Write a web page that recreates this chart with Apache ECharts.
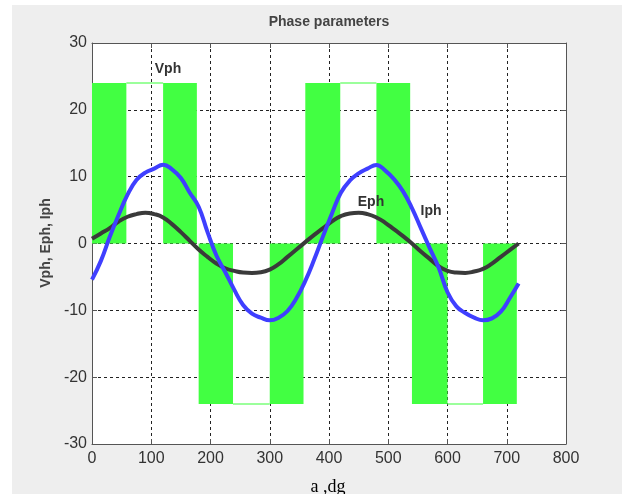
<!DOCTYPE html>
<html>
<head>
<meta charset="utf-8">
<script src="https://cdn.jsdelivr.net/npm/echarts@6/dist/echarts.min.js"></script>
<style>
  html, body { margin: 0; padding: 0; background: #ffffff; width: 622px; height: 494px; overflow: hidden; }
  #chart { position: absolute; left: 12px; top: 5px; width: 610px; height: 489px; background: #eeeeee; }
</style>
</head>
<body>
<div id="chart"></div>
<script>
// ---- data ----
const xTicks = [0, 100, 200, 300, 400, 500, 600, 700, 800];
const yTicks = [-30, -20, -10, 0, 10, 20, 30];

// sample angles (degrees)
const angles = [0, 15, 30, 45, 60, 75, 90, 105, 120, 135, 150, 165, 180, 195, 210, 225, 240, 255, 270, 285, 300, 315, 330, 345, 360,
                375, 390, 405, 420, 435, 450, 465, 480, 495, 510, 525, 540, 555, 570, 585, 600, 615, 630, 645, 660, 675, 690, 705, 720];

// Iph (blue)
const iph = [-5.4, -2.6, 1.0, 4.3, 7.3, 9.5, 10.6, 11.2, 11.8, 11.1, 9.8, 7.6, 5.5, 1.7, -1.8, -4.3, -6.9, -9.2, -10.5, -11.1, -11.5, -11.1, -10.1, -8.2, -5.6,
             -2.4, 1.1, 4.5, 7.6, 9.4, 10.5, 11.2, 11.75, 10.9, 9.6, 7.8, 5.3, 2.3, -0.7, -3.6, -7.3, -9.4, -10.4, -11.1, -11.5, -11.2, -10.2, -8.2, -6.0];

// Eph (dark grey)
const eph = [0.7, 1.5, 2.3, 3.3, 4.0, 4.4, 4.6, 4.4, 3.9, 2.9, 1.7, 0.4, -0.9, -2.0, -3.0, -3.7, -4.1, -4.35, -4.4, -4.3, -3.9, -3.1, -2.0, -0.9, 0.2,
             1.3, 2.3, 3.3, 4.1, 4.5, 4.6, 4.4, 3.9, 3.1, 2.1, 1.1, 0.0, -1.2, -2.3, -3.4, -4.1, -4.35, -4.4, -4.2, -3.8, -3.0, -2.0, -1.0, 0.0];

// Vph pulses (green filled blocks): start, end, level
const pulseStart = [0, 120, 180, 300, 360, 480, 540, 660];
const pulseEnd   = [58, 177, 238, 357, 419, 537, 600, 717];
const pulseLevel = [24, 24, -24, -24, 24, 24, -24, -24];

// Vph gaps (thin outline only)
const gapStart = [58, 238, 419, 600];
const gapEnd   = [120, 300, 480, 660];
const gapLevel = [24, -24, 24, -24];

// ---- build ----
const GREEN = '#42ff42';
const pulseData = pulseStart.map((s, i) => [s, pulseEnd[i], pulseLevel[i]]);
const gapData = gapStart.map((s, i) => [s, gapEnd[i], gapLevel[i]]);
const iphData = angles.map((a, i) => [a, iph[i]]);
const ephData = angles.map((a, i) => [a, eph[i]]);

const chart = echarts.init(document.getElementById('chart'), null, { renderer: 'canvas' });

const labelFont = { fontFamily: 'Liberation Sans, Arial, sans-serif', fontSize: 16, color: '#333333' };
const axisLineStyle = { color: '#555555', width: 1 };
const gridDash = { color: '#222222', width: 1, type: [3, 3] };

const option = {
  backgroundColor: '#eeeeee',
  animation: false,
  grid: { left: 80, top: 38, width: 474, height: 401, show: true, backgroundColor: '#ffffff', borderWidth: 0, containLabel: false },
  xAxis: [
    {
      type: 'value', min: 0, max: 800, interval: 100, position: 'bottom',
      axisLine: { show: true, onZero: false, lineStyle: axisLineStyle },
      axisTick: { show: true, inside: true, length: 5, lineStyle: axisLineStyle },
      axisLabel: Object.assign({ margin: 7, formatter: v => (xTicks.indexOf(v) >= 0 ? String(v) : '') }, labelFont),
      splitLine: { show: true, lineStyle: gridDash }
    },
    {
      type: 'value', min: 0, max: 800, interval: 100, position: 'top',
      axisLine: { show: true, onZero: false, lineStyle: axisLineStyle },
      axisTick: { show: true, inside: true, length: 5, lineStyle: axisLineStyle },
      axisLabel: { show: false }, splitLine: { show: false }
    }
  ],
  yAxis: [
    {
      type: 'value', min: -30, max: 30, interval: 10, position: 'left',
      axisLine: { show: true, onZero: false, lineStyle: axisLineStyle },
      axisTick: { show: true, inside: true, length: 5, lineStyle: axisLineStyle },
      axisLabel: Object.assign({ margin: 5, formatter: v => (yTicks.indexOf(v) >= 0 ? String(v) : '') }, labelFont),
      splitLine: { show: true, lineStyle: gridDash }
    },
    {
      type: 'value', min: -30, max: 30, interval: 10, position: 'right',
      axisLine: { show: true, onZero: false, lineStyle: axisLineStyle },
      axisTick: { show: true, inside: true, length: 5, lineStyle: axisLineStyle },
      axisLabel: { show: false }, splitLine: { show: false }
    }
  ],
  series: [
    {
      name: 'Vph', type: 'custom', xAxisIndex: 0, yAxisIndex: 0,
      encode: { x: [0, 1], y: [2] },
      data: pulseData,
      renderItem: function (params, api) {
        const p0 = api.coord([api.value(0), api.value(2)]);
        const p1 = api.coord([api.value(1), 0]);
        return {
          type: 'rect',
          shape: { x: p0[0], y: Math.min(p0[1], p1[1]), width: p1[0] - p0[0], height: Math.abs(p1[1] - p0[1]) },
          style: { fill: GREEN }
        };
      },
      z: 1
    },
    {
      name: 'Vph gaps', type: 'custom', xAxisIndex: 0, yAxisIndex: 0,
      encode: { x: [0, 1], y: [2] },
      data: gapData,
      renderItem: function (params, api) {
        const p0 = api.coord([api.value(0), api.value(2)]);
        const p1 = api.coord([api.value(1), api.value(2)]);
        return {
          type: 'line',
          shape: { x1: p0[0], y1: p0[1], x2: p1[0], y2: p1[1] },
          style: { stroke: '#7aff7a', lineWidth: 1.5 }
        };
      },
      z: 1
    },
    {
      name: 'Eph', type: 'line', data: ephData, showSymbol: false, smooth: 0.5,
      lineStyle: { color: '#3a3a3a', width: 4 }, z: 3
    },
    {
      name: 'Iph', type: 'line', data: iphData, showSymbol: false, smooth: 0.45,
      lineStyle: { color: '#3f3fff', width: 4 }, z: 4
    }
  ],
  graphic: [
    { type: 'text', x: 317, y: 17, style: { text: 'Phase parameters', fontFamily: 'Liberation Sans, Arial, sans-serif', fontSize: 14, fontWeight: 'bold', fill: '#444444', align: 'center', verticalAlign: 'middle' } },
    { type: 'text', x: 34, y: 238, rotation: Math.PI / 2, style: { text: 'Vph, Eph, Iph', fontFamily: 'Liberation Sans, Arial, sans-serif', fontSize: 14, fontWeight: 'bold', fill: '#444444', align: 'center', verticalAlign: 'middle' } },
    { type: 'text', x: 316, y: 482, style: { text: 'a ,dg', fontFamily: 'Liberation Serif, Times New Roman, serif', fontSize: 18, fill: '#000000', align: 'center', verticalAlign: 'middle' } },
    { type: 'text', x: 156, y: 64, z: 10, style: { text: 'Vph', fontFamily: 'Liberation Sans, Arial, sans-serif', fontSize: 14, fontWeight: 'bold', fill: '#333333', align: 'center', verticalAlign: 'middle' } },
    { type: 'text', x: 359, y: 197, z: 10, style: { text: 'Eph', fontFamily: 'Liberation Sans, Arial, sans-serif', fontSize: 14, fontWeight: 'bold', fill: '#333333', align: 'center', verticalAlign: 'middle' } },
    { type: 'text', x: 419, y: 206, z: 10, style: { text: 'Iph', fontFamily: 'Liberation Sans, Arial, sans-serif', fontSize: 14, fontWeight: 'bold', fill: '#333333', align: 'center', verticalAlign: 'middle' } }
  ]
};
chart.setOption(option);
</script>
</body>
</html>
